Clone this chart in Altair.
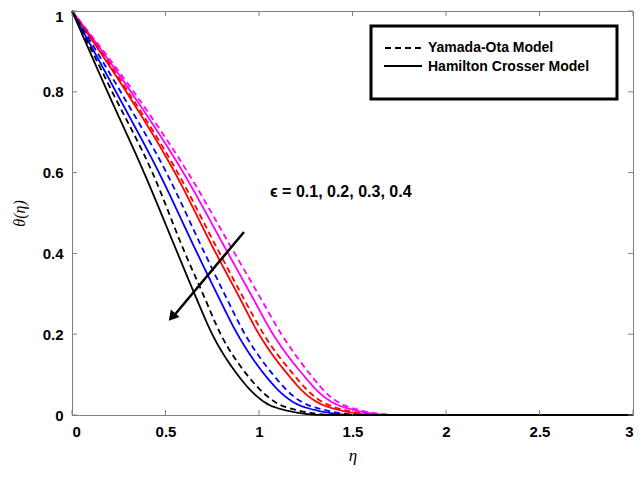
import altair as alt
import pandas as pd

theta_levels = [1.0, 0.8, 0.6, 0.4, 0.3, 0.2, 0.1, 0.05, 0.02, 0.0, 0.0]

# eta positions for each curve (last point: end of axis)
eta_hc_01 = [0, 0.315, 0.595, 0.835, 0.955, 1.075, 1.235, 1.335, 1.45, 1.72, 3.0]
eta_yo_01 = [0, 0.33, 0.62, 0.87, 0.995, 1.12, 1.275, 1.37, 1.48, 1.75, 3.0]
eta_hc_02 = [0, 0.29, 0.55, 0.77, 0.885, 1.00, 1.155, 1.255, 1.37, 1.64, 3.0]
eta_yo_02 = [0, 0.30, 0.565, 0.79, 0.905, 1.025, 1.185, 1.285, 1.40, 1.67, 3.0]
eta_hc_03 = [0, 0.235, 0.465, 0.67, 0.775, 0.885, 1.03, 1.13, 1.24, 1.52, 3.0]
eta_yo_03 = [0, 0.26, 0.505, 0.71, 0.815, 0.925, 1.075, 1.175, 1.29, 1.57, 3.0]
eta_hc_04 = [0, 0.19, 0.385, 0.565, 0.655, 0.75, 0.885, 0.98, 1.08, 1.35, 3.0]
eta_yo_04 = [0, 0.215, 0.43, 0.605, 0.70, 0.795, 0.935, 1.035, 1.14, 1.42, 3.0]

eps_values = ["0.1", "0.2", "0.3", "0.4"]
eps_colors = ["#ff00ff", "#ff0000", "#0000ff", "#000000"]
models = ["Yamada-Ota Model", "Hamilton Crosser Model"]

x_ticks = [0, 0.5, 1, 1.5, 2, 2.5, 3]
y_ticks = [0, 0.2, 0.4, 0.6, 0.8, 1]

annotation = "\u03f5 = 0.1, 0.2, 0.3, 0.4"

series = {
    ("0.1", models[1]): eta_hc_01, ("0.1", models[0]): eta_yo_01,
    ("0.2", models[1]): eta_hc_02, ("0.2", models[0]): eta_yo_02,
    ("0.3", models[1]): eta_hc_03, ("0.3", models[0]): eta_yo_03,
    ("0.4", models[1]): eta_hc_04, ("0.4", models[0]): eta_yo_04,
}
rows = []
for (eps, model), etas in series.items():
    for e, t in zip(etas, theta_levels):
        rows.append({"eta": e, "theta": t, "eps": eps, "model": model,
                     "key": eps + model})
df = pd.DataFrame(rows)

W, H = 561, 404
xs = alt.Scale(domain=[0, 3], nice=False, zero=False)
ys = alt.Scale(domain=[0, 1], nice=False)

FONT = "Liberation Sans"
GRAY = "#808080"

curves = alt.Chart(df).mark_line(strokeWidth=1.8, interpolate="monotone").encode(
    x=alt.X("eta:Q", scale=xs,
            axis=alt.Axis(values=x_ticks, format="~g", title="\u03b7",
                          titleFont="Liberation Serif", titleFontStyle="italic",
                          titleFontWeight="normal", titleFontSize=17, titlePadding=8)),
    y=alt.Y("theta:Q", scale=ys,
            axis=alt.Axis(values=y_ticks, format="~g", title="\u03b8(\u03b7)",
                          titleFont="Liberation Serif", titleFontStyle="italic",
                          titleFontWeight="normal", titleFontSize=16, titlePadding=15,
                          labelOffset={"condition": {"test": "datum.value == 1", "value": 5},
                                       "value": 0})),
    color=alt.Color("eps:N", scale=alt.Scale(domain=eps_values, range=eps_colors), legend=None),
    strokeDash=alt.StrokeDash("model:N", scale=alt.Scale(domain=models, range=[[6, 4], [1, 0]]), legend=None),
    detail="key:N",
    order="eta:Q",
)

xt = pd.DataFrame({"t": x_ticks})
yt = pd.DataFrame({"t": y_ticks})
tick_bottom = alt.Chart(xt).mark_rule(color=GRAY, strokeWidth=1).encode(
    x=alt.X("t:Q", scale=xs), y=alt.value(H), y2=alt.value(H - 5))
tick_top = alt.Chart(xt).mark_rule(color=GRAY, strokeWidth=1).encode(
    x=alt.X("t:Q", scale=xs), y=alt.value(0), y2=alt.value(5))
tick_left = alt.Chart(yt).mark_rule(color=GRAY, strokeWidth=1).encode(
    y=alt.Y("t:Q", scale=ys), x=alt.value(0), x2=alt.value(5))
tick_right = alt.Chart(yt).mark_rule(color=GRAY, strokeWidth=1).encode(
    y=alt.Y("t:Q", scale=ys), x=alt.value(W), x2=alt.value(W - 5))

one = pd.DataFrame({"a": [0]})
legend_box = alt.Chart(one).mark_rect(fill="white", stroke="black", strokeWidth=3).encode(
    x=alt.value(299), x2=alt.value(545), y=alt.value(15), y2=alt.value(88))
leg_dash = alt.Chart(one).mark_rule(color="black", strokeWidth=2, strokeDash=[6, 4]).encode(
    x=alt.value(313), x2=alt.value(350), y=alt.value(37))
leg_solid = alt.Chart(one).mark_rule(color="black", strokeWidth=2).encode(
    x=alt.value(312), x2=alt.value(350), y=alt.value(55))
leg_t1 = alt.Chart(one).mark_text(text=models[0], font=FONT, fontWeight="bold", fontSize=14,
                                  align="left", baseline="middle", color="black").encode(
    x=alt.value(356), y=alt.value(37))
leg_t2 = alt.Chart(one).mark_text(text=models[1], font=FONT, fontWeight="bold", fontSize=14,
                                  align="left", baseline="middle", color="black").encode(
    x=alt.value(356), y=alt.value(56))

ann = alt.Chart(one).mark_text(text=annotation, font=FONT, fontWeight="bold", fontSize=16,
                               align="left", baseline="middle", color="black").encode(
    x=alt.value(198), y=alt.value(181))
arrow_line = alt.Chart(one).mark_rule(color="black", strokeWidth=2.5).encode(
    x=alt.value(172), y=alt.value(221), x2=alt.value(100), y2=alt.value(307))
arrow_head = alt.Chart(one).mark_point(shape="triangle-up", filled=True, size=130,
                                       color="black", opacity=1, angle=220).encode(
    x=alt.value(100), y=alt.value(306))

chart = alt.layer(
    curves, tick_bottom, tick_top, tick_left, tick_right,
    legend_box, leg_dash, leg_solid, leg_t1, leg_t2,
    ann, arrow_line, arrow_head,
).properties(
    width=W, height=H,
    autosize=alt.AutoSizeParams(type="none"),
    padding={"left": 64, "top": 3, "right": 3, "bottom": 62},
    background="white",
).configure_view(
    stroke=GRAY, strokeWidth=1,
).configure_axis(
    grid=False, ticks=False, domainColor=GRAY, domainWidth=1,
    labelFont=FONT, labelFontWeight="bold", labelFontSize=15, labelColor="black",
    labelPadding=9, titleColor="black",
)

chart.save("out.html", embed_options={"renderer": "svg", "actions": False})
